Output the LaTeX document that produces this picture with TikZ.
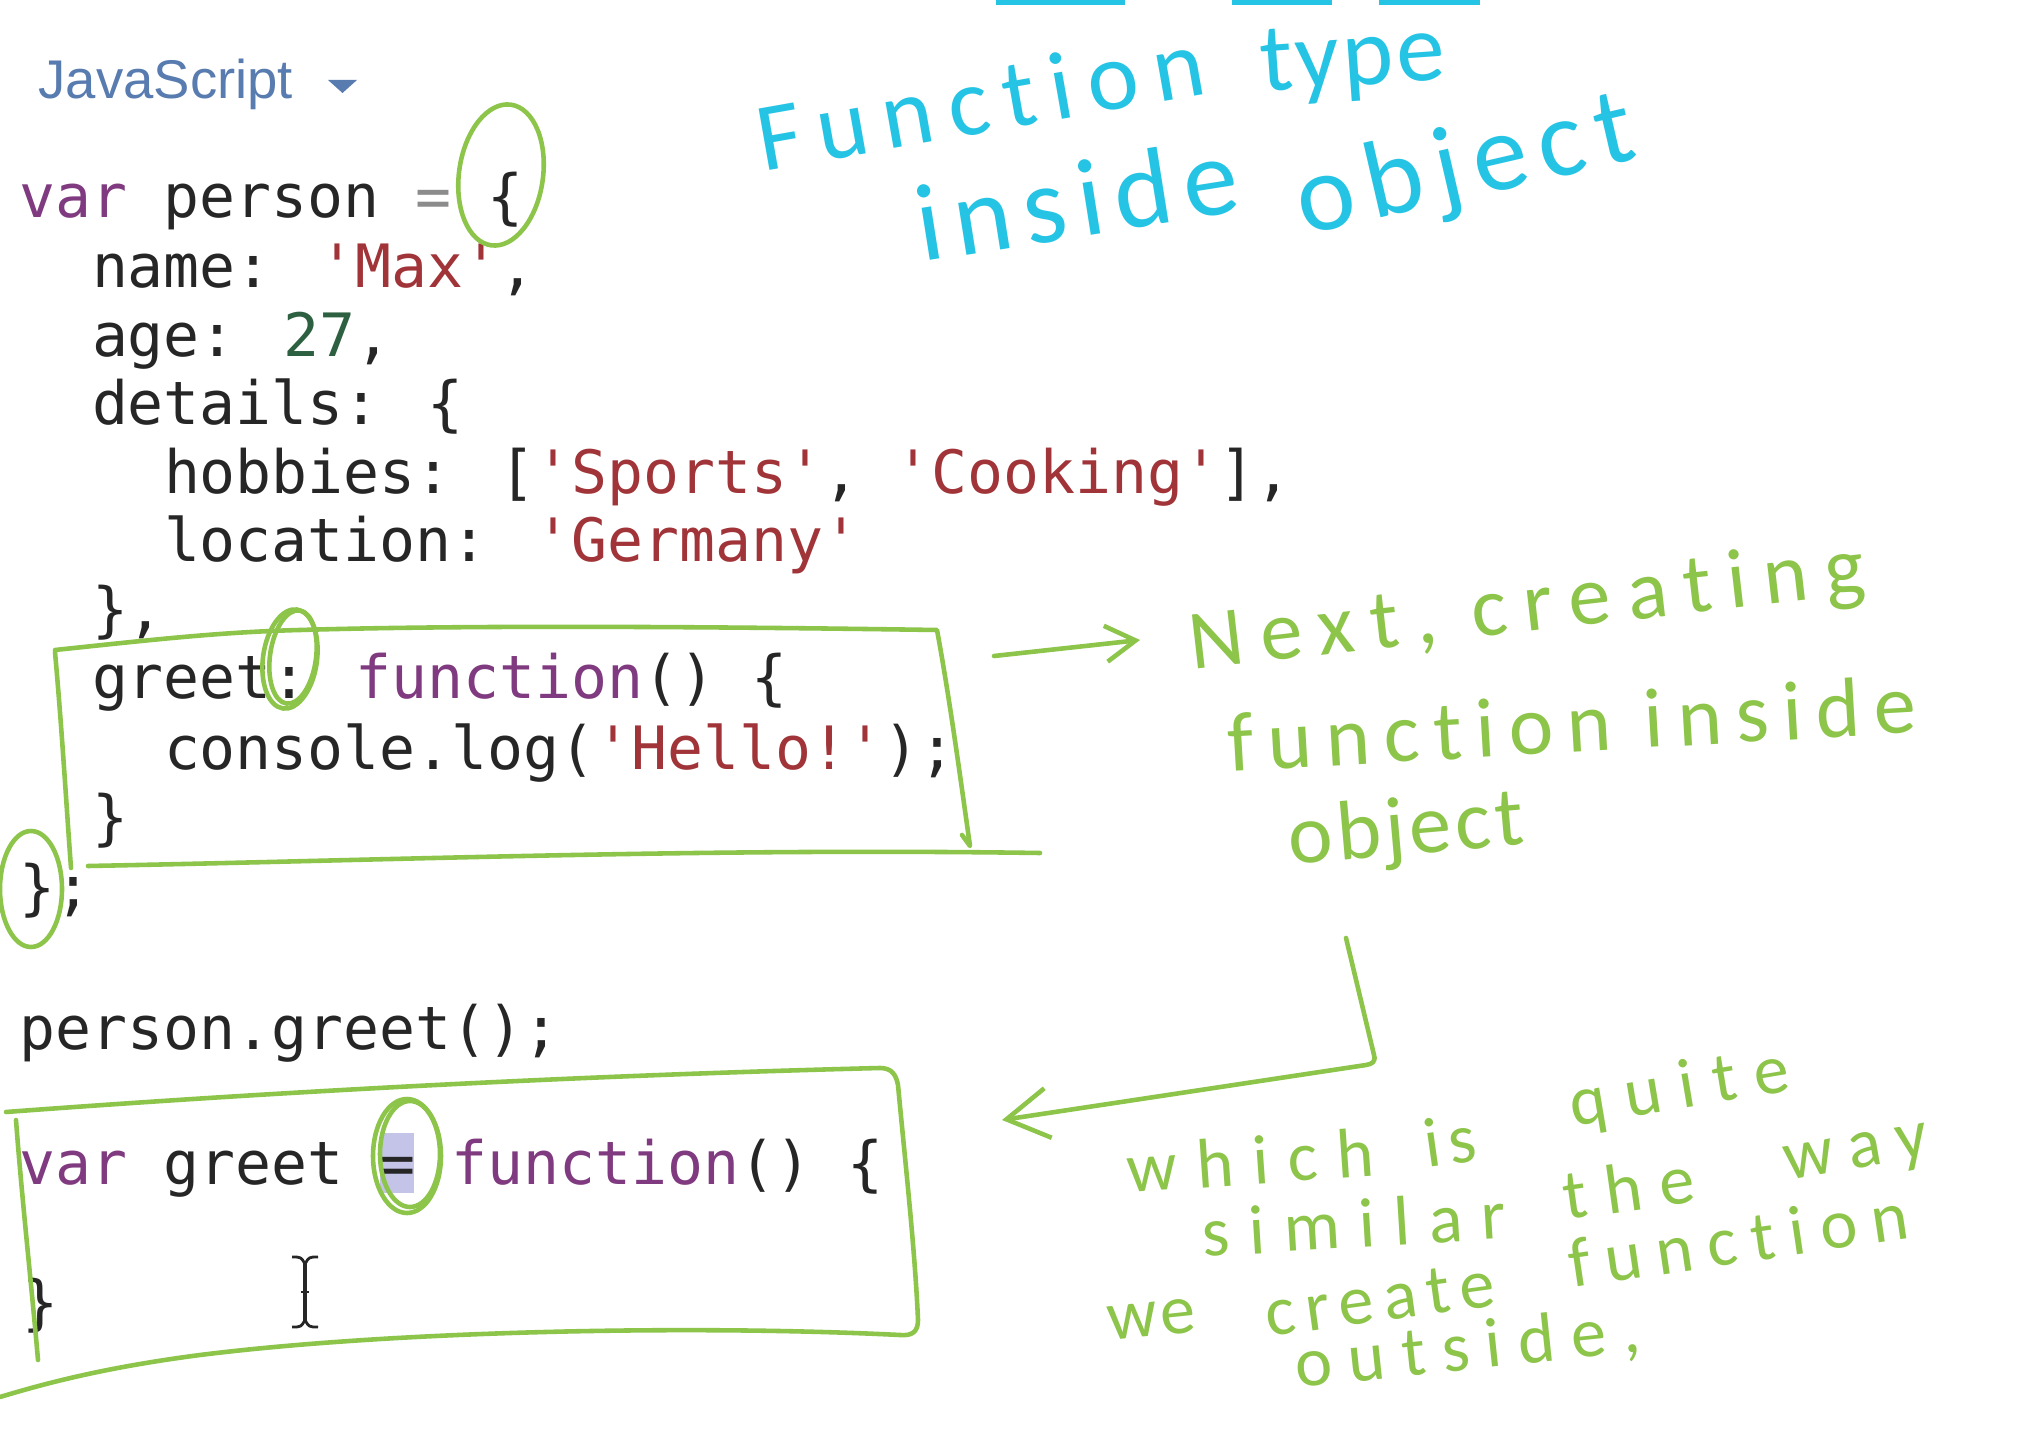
\documentclass[tikz,border=0pt]{standalone}
\usepackage{fontspec}
\usetikzlibrary{arrows.meta}
\newfontfamily\codefont{DejaVu Sans Mono}
\newfontfamily\uifont{Liberation Sans}
\newfontfamily\handfont{Carlito}[Ligatures=CommonOff]
\definecolor{kw}{RGB}{128,58,128}
\definecolor{strc}{RGB}{160,52,56}
\definecolor{numc}{RGB}{45,95,65}
\definecolor{txt}{RGB}{38,38,38}
\definecolor{opc}{RGB}{140,140,140}
\definecolor{penc}{RGB}{141,196,74}
\definecolor{inkc}{RGB}{38,196,228}
\definecolor{uic}{RGB}{88,124,176}
\definecolor{hlc}{RGB}{196,196,232}
\begin{document}
\begin{tikzpicture}[x=0.01cm, y=-0.01cm,
  code/.style={anchor=base west, inner sep=0pt, outer sep=0pt, text=txt,
    font=\codefont\fontsize{17}{20}\selectfont},
  pen/.style={draw=penc, line width=1.3pt, line cap=round, line join=round},
  hand/.style 2 args={anchor=base west, inner sep=0pt, text=penc,
    font=\handfont\fontsize{#1}{#1}\selectfont\addfontfeature{LetterSpace=#2}},
  ink/.style 2 args={anchor=base west, inner sep=0pt, text=inkc,
    font=\handfont\fontsize{#1}{#1}\selectfont\addfontfeature{LetterSpace=#2}},
  tipA/.style={-{Straight Barb[length=0.3cm,width=0.36cm]}},
  tipB/.style={-{Straight Barb[length=0.42cm,width=0.5cm]}}
]
\fill[white] (0,0) rectangle (2036,1440);
\useasboundingbox (0,0) rectangle (2036,1440);

% language selector
\node[anchor=base west, inner sep=0pt, text=uic, font=\uifont\fontsize{15.5}{18}\selectfont] (lang) at (38,99) {JavaScript};
\fill[uic] (328,80) -- (357,80) -- (342.5,93) -- cycle;

% highlight of "="
\fill[hlc] (380,1133) rectangle (414,1193);

% code
\node[code] (l1) at (20,218) {\textcolor{kw}{var} person \textcolor{opc}{=} \{};
\node[code] (l2) at (92,288) {name: \textcolor{strc}{'Max'},};
\node[code] (l3) at (92,357) {age: \textcolor{numc}{27},};
\node[code] (l4) at (92,425) {details: \{};
\node[code] (l5) at (164,494) {hobbies: [\textcolor{strc}{'Sports'}, \textcolor{strc}{'Cooking'}],};
\node[code] (l6) at (164,562) {location: \textcolor{strc}{'Germany'}};
\node[code] (l7) at (92,631) {\},};
\node[code] (l8) at (92,699) {greet: \textcolor{kw}{function}() \{};
\node[code] (l9) at (164,770) {console.log(\textcolor{strc}{'Hello!'});};
\node[code] (l10) at (92,838) {\}};
\node[code] (l11) at (20,909) {\};};
\node[code] (l12) at (20,1049) {person.greet();};
\node[code] (l13) at (20,1184) {\textcolor{kw}{var} greet = \textcolor{kw}{function}() \{};
\node[code] (l14) at (22,1323) {\}};

% text cursor
\draw[txt, line width=0.9pt] (305,1263) -- (305,1321);
\draw[txt, line width=0.8pt] (292,1257) .. controls (301,1257) .. (305,1264) .. controls (309,1257) .. (318,1257);
\draw[txt, line width=0.8pt] (292,1327) .. controls (301,1327) .. (305,1320) .. controls (309,1327) .. (318,1327);
\draw[txt, line width=0.8pt] (301,1292) -- (309,1292);

% cyan title
\draw[inkc, line width=1.6pt] (996,2) -- (1125,2);
\draw[inkc, line width=1.6pt] (1232,2) -- (1332,2);
\draw[inkc, line width=1.6pt] (1379,2) -- (1480,2);
\node[ink={27.6}{15.8}, rotate=10] (t1a) at (763,172) {Function};
\node[ink={27.6}{3}, rotate=4] (t1b) at (1262,92) {type};
\node[ink={31.3}{11}, rotate=9] (t2a) at (922,262) {inside};
\node[ink={31.3}{11.5}, rotate=13] (t2b) at (1304,236) {object};

% circles
\draw[pen, rotate around={-8:(501,175)}] (501,175) ellipse [x radius=42, y radius=71];
\draw[pen, rotate around={-8:(290,659)}] (290,659) ellipse [x radius=27, y radius=50];
\draw[pen, rotate around={-8:(293,657)}] (293,657) ellipse [x radius=23, y radius=47];
\draw[pen] (31,889) ellipse [x radius=31, y radius=58];
\draw[pen] (407,1156) ellipse [x radius=34, y radius=57];
\draw[pen] (410,1154) ellipse [x radius=30, y radius=53];

% box 1
\draw[pen] (55,650) .. controls (150,640) and (220,632) .. (300,630)
  .. controls (500,624) and (800,628) .. (937,630)
  .. controls (950,700) and (962,790) .. (970,846) -- (962,835);
\draw[pen] (55,652) .. controls (62,730) and (66,800) .. (71,868);
\draw[pen] (88,866) .. controls (400,860) and (700,848) .. (1040,853);

% box 2
\draw[pen] (6,1112) .. controls (300,1090) and (600,1075) .. (880,1068)
  .. controls (892,1068) and (896,1075) .. (898,1085)
  .. controls (905,1160) and (915,1250) .. (918,1320)
  .. controls (918,1332) and (912,1336) .. (900,1335)
  .. controls (700,1325) and (400,1330) .. (200,1355)
  .. controls (100,1368) and (40,1385) .. (0,1397);
\draw[pen] (16,1120) .. controls (22,1200) and (32,1290) .. (38,1360);

% arrows
\coordinate (a1s) at (994,656);
\coordinate (a1e) at (1140,640);
\draw[pen, tipA] (a1s) -- (a1e);
\coordinate (a2s) at (1346,938);
\coordinate (a2c) at (1374,1055);
\coordinate (a2e) at (1002,1120);
\draw[pen, tipB] (a2s) -- (a2c) .. controls (1376,1062) and (1372,1064) .. (1366,1065) -- (a2e);

% green notes (upper)
\node[hand={24}{19.8}, rotate=6.5] (g1) at (1192,670) {Next, creating};
\node[hand={24}{16.5}, rotate=3.3] (g2) at (1229,772) {function inside};
\node[hand={24}{5}, rotate=5] (g3) at (1290,865) {object};

% green notes (lower), word by word
\node[hand={20}{27.5}, rotate=4] (g4a) at (1128,1193) {which};
\node[hand={20}{12}, rotate=8] (g4b) at (1427,1168) {is};
\node[hand={20}{26}, rotate=9.5] (g4c) at (1573,1127) {quite};
\node[hand={20}{27}, rotate=3.5] (g5a) at (1203,1257) {similar};
\node[hand={20}{26}, rotate=8] (g5b) at (1566,1220) {the};
\node[hand={20}{22.5}, rotate=10] (g5c) at (1787,1181) {way};
\node[hand={20}{5}, rotate=6] (g6a) at (1109,1341) {we};
\node[hand={20}{14.5}, rotate=7.8] (g6b) at (1268,1337) {create};
\node[hand={20}{21}, rotate=8.4] (g6c) at (1572,1288) {function};
\node[hand={20}{23.5}, rotate=6] (g7) at (1297,1388) {outside,};
\end{tikzpicture}
\end{document}
